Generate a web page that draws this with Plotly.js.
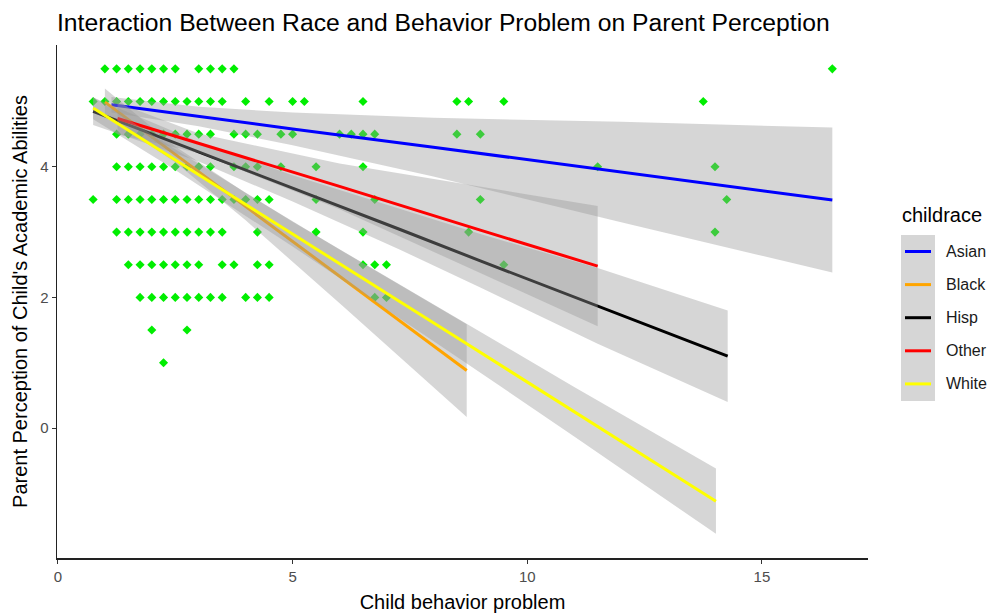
<!DOCTYPE html>
<html>
<head>
<meta charset="utf-8">
<script src="https://cdn.plot.ly/plotly-3.0.1.min.js"></script>
<style>html,body{margin:0;padding:0;background:#fff;}#chart{width:992px;height:614px;}</style>
</head>
<body>
<div id="chart"></div>
<script>
// ---------- data ----------
const categories = ["Asian", "Black", "Hisp", "Other", "White"];
const lineColors = ["#0000FF", "#FFA500", "#000000", "#FF0000", "#FFFF00"];

// scatter points: one array of x values per y level
const rowY = [5.5, 5.0, 4.5, 4.0, 3.5, 3.0, 2.5, 2.0, 1.5, 1.0];
const rowX = [
  [1.0,1.25,1.5,1.75,2.0,2.25,2.5,3.0,3.25,3.5,3.75,16.5],
  [0.75,1.0,1.25,1.5,1.75,2.0,2.25,2.5,2.75,3.0,3.25,3.5,4.0,4.5,5.0,5.25,6.5,8.5,8.75,9.5,13.75],
  [1.25,1.5,1.75,2.0,2.25,2.5,2.75,3.0,3.25,3.75,4.0,4.25,4.75,5.0,6.0,6.25,6.5,6.75,8.5,9.0],
  [1.25,1.5,1.75,2.0,2.25,2.5,2.75,3.0,3.25,3.75,4.0,4.25,4.75,5.5,6.5,11.5,14.0],
  [0.75,1.25,1.5,1.75,2.0,2.25,2.5,2.75,3.0,3.25,3.5,3.75,4.0,4.25,4.5,5.5,6.75,9.0,14.25],
  [1.25,1.5,1.75,2.0,2.25,2.5,2.75,3.0,3.25,3.5,4.25,5.5,6.5,8.75,14.0],
  [1.5,1.75,2.0,2.25,2.5,2.75,3.0,3.5,3.75,4.25,4.5,6.5,6.75,7.0,9.5],
  [1.75,2.0,2.25,2.5,2.75,3.0,3.25,3.5,4.0,4.25,4.5,6.75,7.0],
  [2.0,2.75],
  [2.25]
];

// fitted lines with confidence band
const asianX  = [1.14, 3, 5, 8, 12, 16.5];
const asianFit= [4.95, 4.77, 4.58, 4.30, 3.92, 3.49];
const asianLo = [4.83, 4.62, 4.33, 3.85, 3.15, 2.38];
const asianHi = [5.07, 4.92, 4.83, 4.75, 4.69, 4.60];

const blackX  = [1.0, 2.5, 4, 6.08, 8.71];
const blackFit= [4.99, 4.19, 3.39, 2.28, 0.88];
const blackLo = [4.78, 4.07, 3.18, 1.86, 0.17];
const blackHi = [5.20, 4.31, 3.60, 2.70, 1.59];

const hispX   = [0.75, 3, 5, 7.29, 9, 11.5, 14.27];
const hispFit = [4.85, 4.23, 3.67, 3.04, 2.56, 1.87, 1.10];
const hispLo  = [4.64, 4.08, 3.47, 2.73, 2.15, 1.29, 0.40];
const hispHi  = [5.06, 4.38, 3.87, 3.35, 2.97, 2.45, 1.80];

const otherX  = [1.27, 3, 6, 9, 11.5];
const otherFit= [4.74, 4.36, 3.70, 3.03, 2.48];
const otherLo = [4.50, 4.21, 3.35, 2.37, 1.56];
const otherHi = [4.98, 4.51, 4.05, 3.69, 3.40];

const whiteX  = [0.75, 2.5, 5, 8.71, 11, 14.02];
const whiteFit= [4.90, 4.11, 2.97, 1.29, 0.25, -1.12];
const whiteLo = [4.73, 3.95, 2.78, 0.99, -0.13, -1.62];
const whiteHi = [5.07, 4.27, 3.16, 1.59, 0.63, -0.62];

const xTickVals = [0, 5, 10, 15];
const xTickText = ["0", "5", "10", "15"];
const yTickVals = [0, 2, 4];
const yTickText = ["0", "2", "4"];

const titleText = "Interaction Between Race and Behavior Problem on Parent Perception";
const xTitle = "Child behavior problem";
const yTitle = "Parent Perception of Child's Academic Abilities";
const legendTitle = "childrace";

// ---------- build ----------
const groups = [
  {x: asianX, fit: asianFit, lo: asianLo, hi: asianHi},
  {x: blackX, fit: blackFit, lo: blackLo, hi: blackHi},
  {x: hispX,  fit: hispFit,  lo: hispLo,  hi: hispHi},
  {x: otherX, fit: otherFit, lo: otherLo, hi: otherHi},
  {x: whiteX, fit: whiteFit, lo: whiteLo, hi: whiteHi}
];

const px = [], py = [];
rowY.forEach((yv, i) => rowX[i].forEach(xv => { px.push(xv); py.push(yv); }));

const traces = [{
  type: "scatter", mode: "markers", x: px, y: py, showlegend: false, hoverinfo: "skip",
  marker: {symbol: "diamond", size: 7, color: "#00EE00", line: {width: 0}}
}];

groups.forEach((g, i) => {
  traces.push({
    type: "scatter", mode: "lines", showlegend: false, hoverinfo: "skip",
    x: g.x.concat(g.x.slice().reverse()),
    y: g.hi.concat(g.lo.slice().reverse()),
    fill: "toself", fillcolor: "rgba(153,153,153,0.4)", line: {width: 0}
  });
  traces.push({
    type: "scatter", mode: "lines", name: categories[i], showlegend: false,
    x: g.x, y: g.fit, line: {color: lineColors[i], width: 3}
  });
});

// layout geometry (pixels)
const W = 992, H = 614;
const M = {l: 57, r: 124, t: 45, b: 56};
const plotW = W - M.l - M.r, plotH = H - M.t - M.b;
const pxX = p => (p - M.l) / plotW;
const pxY = p => (H - M.b - p) / plotH;

const shapes = [{
  type: "rect", xref: "paper", yref: "paper", layer: "above",
  x0: pxX(901), x1: pxX(935), y0: pxY(401), y1: pxY(235),
  fillcolor: "rgba(153,153,153,0.4)", line: {width: 0}
}];
const annotations = [{
  xref: "paper", yref: "paper", x: pxX(900), y: pxY(215), xanchor: "left", yanchor: "middle",
  text: legendTitle, showarrow: false, font: {family: "Liberation Sans, Arial, sans-serif", size: 20, color: "#000"}
}];
categories.forEach((c, i) => {
  const yy = 251.5 + i * 33.1;
  shapes.push({type: "line", xref: "paper", yref: "paper", layer: "above",
    x0: pxX(905), x1: pxX(931), y0: pxY(yy), y1: pxY(yy), line: {color: lineColors[i], width: 3}});
  annotations.push({xref: "paper", yref: "paper", x: pxX(944), y: pxY(yy), xanchor: "left", yanchor: "middle",
    text: c, showarrow: false, font: {family: "Liberation Sans, Arial, sans-serif", size: 16, color: "#1A1A1A"}});
});

const layout = {
  width: W, height: H, margin: M,
  paper_bgcolor: "#fff", plot_bgcolor: "#fff",
  font: {family: "Liberation Sans, Arial, sans-serif", color: "#000"},
  showlegend: false,
  title: {text: titleText, x: 57 / W, xanchor: "left", xref: "container",
          y: 1 - 22 / H, yanchor: "middle", yref: "container",
          font: {size: 24.7, color: "#000"}},
  xaxis: {range: [-0.02, 17.26], showgrid: false, zeroline: false, showline: true,
          linecolor: "#222", linewidth: 1.5, ticks: "outside", ticklen: 4, tickcolor: "#333",
          tickvals: xTickVals, ticktext: xTickText,
          tickfont: {size: 15, color: "#4D4D4D"},
          title: {text: xTitle, font: {size: 20, color: "#000"}, standoff: 11}},
  yaxis: {range: [-1.99, 5.865], showgrid: false, zeroline: false, showline: true,
          linecolor: "#222", linewidth: 1.5, ticks: "outside", ticklen: 4, tickcolor: "#333",
          tickvals: yTickVals, ticktext: yTickText,
          tickfont: {size: 15, color: "#4D4D4D"},
          title: {text: yTitle, font: {size: 20, color: "#000"}, standoff: 7}},
  shapes: shapes,
  annotations: annotations
};

Plotly.newPlot("chart", traces, layout, {staticPlot: true, displayModeBar: false});
</script>
</body>
</html>
